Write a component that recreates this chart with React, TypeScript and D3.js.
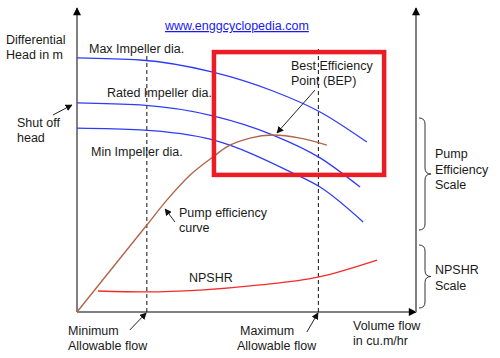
import React from "react";
import * as d3 from "d3";

// flow (x) in % of axis, head/value (y) in % of axis
const maxImpeller: [number, number][] = [[0, 83.6], [18.6, 82.9], [40.1, 78.9], [57.8, 72.7], [71.7, 65.8], [85.5, 55.9]];
const ratedImpeller: [number, number][] = [[0, 68.8], [18.6, 68.1], [40.1, 64.5], [57.8, 58.2], [71.7, 50.7], [83.5, 41.1]];
const minImpeller: [number, number][] = [[0, 60.5], [18.6, 59.9], [40.1, 56.6], [63.7, 45.7], [71.7, 41.1], [84.4, 29.6]];
const efficiency: [number, number][] = [[0, 0], [20.6, 28.6], [26.5, 36.8], [33.3, 45.0], [40.1, 51.0], [44.2, 54.3], [51.0, 57.2], [57.8, 58.2], [65.8, 57.2], [73.7, 54.9]];
const npshr: [number, number][] = [[6.2, 6.9], [20.6, 6.6], [36.3, 7.2], [54.0, 8.9], [71.1, 11.5], [88.5, 17.1]];
const allowableFlows = [20.6, 71.2];
const allowableTops = [85.2, 86.8];
const bepBox = { x0: 40.4, x1: 90.6, y0: 45.1, y1: 85.5 };
const annotationArrows: [number, number, number, number][] = [
  [-7.1, 64.8, -1.5, 68.1],
  [70.2, 73.0, 59.0, 58.9],
  [28.9, 29.6, 26.0, 33.9],
  [15.6, -5.9, 20.4, -0.3],
  [67.8, -6.6, 71.1, -0.3],
];
const labels: [string, number, number][] = [
  ["Differential", 6, 44], ["Head in m", 6, 59],
  ["Max Impeller dia.", 89, 53], ["Rated Impeller dia.", 107, 97],
  ["Shut off", 17, 127], ["head", 17, 142],
  ["Min Impeller dia.", 91, 156],
  ["Best Efficiency", 291, 70], ["Point (BEP)", 291, 85],
  ["Pump efficiency", 179, 217], ["curve", 179, 232],
  ["NPSHR", 189, 282],
  ["Minimum", 68, 335], ["Allowable flow", 68, 350],
  ["Maximum", 240, 335], ["Allowable flow", 237, 350],
  ["Volume flow", 353, 330], ["in cu.m/hr", 353, 345],
  ["Pump", 435, 158], ["Efficiency", 435, 174], ["Scale", 435, 189],
  ["NPSHR", 435, 274], ["Scale", 435, 290],
];
const braces: [number, number][] = [[118, 230], [245, 308]];

const W = 500, H = 358;
const x = d3.scaleLinear().domain([0, 100]).range([77, 416]);
const y = d3.scaleLinear().domain([0, 100]).range([312, 8]);

export default function App() {
  const line = d3.line<[number, number]>().x(d => x(d[0])).y(d => y(d[1])).curve(d3.curveMonotoneX);
  const font = "'Liberation Sans', Arial, sans-serif";
  const brace = (t: number, b: number) => {
    const m = (t + b) / 2, x0 = 419, x1 = 425, x2 = 431;
    return `M${x0},${t} Q${x1},${t} ${x1},${t + 6} L${x1},${m - 6} Q${x1},${m} ${x2},${m} Q${x1},${m} ${x1},${m + 6} L${x1},${b - 6} Q${x1},${b} ${x0},${b}`;
  };
  return (
    <svg width={W} height={H} style={{ position: "fixed", left: 0, top: 0, background: "#fff" }} fontFamily={font} fontSize={12.5}>
      <defs>
        <marker id="ah" viewBox="0 0 10 10" refX="9" refY="5" markerWidth="7" markerHeight="7" orient="auto" markerUnits="userSpaceOnUse">
          <path d="M0,0 L10,5 L0,10 z" fill="#111" />
        </marker>
        <marker id="axh" viewBox="0 0 10 10" refX="9" refY="5" markerWidth="9" markerHeight="8" orient="auto" markerUnits="userSpaceOnUse">
          <path d="M0,0 L10,5 L0,10 z" fill="#000" />
        </marker>
      </defs>
      <rect width={W} height={H} fill="#fff" />
      {/* axes */}
      <line x1={x(0)} y1={y(0)} x2={x(0)} y2={y(100)} stroke="#808080" strokeWidth={2} markerEnd="url(#axh)" />
      <line x1={x(0)} y1={y(0)} x2={x(100)} y2={y(0)} stroke="#808080" strokeWidth={2} markerEnd="url(#axh)" />
      <line x1={x(100)} y1={y(0)} x2={x(100)} y2={y(100)} stroke="#808080" strokeWidth={2} markerEnd="url(#axh)" />
      {/* allowable flow dashed lines */}
      {allowableFlows.map((f, i) => (
        <line key={i} x1={x(f)} x2={x(f)} y1={y(0)} y2={y(allowableTops[i])} stroke="#111" strokeWidth={1} strokeDasharray="4,3" />
      ))}
      {/* curves */}
      {[maxImpeller, ratedImpeller, minImpeller].map((c, i) => (
        <path key={i} d={line(c) || ""} fill="none" stroke="#2f3cf5" strokeWidth={1.3} />
      ))}
      <path d={line(efficiency) || ""} fill="none" stroke="#b0664a" strokeWidth={1.4} />
      <path d={line(npshr) || ""} fill="none" stroke="#f42a2a" strokeWidth={1.3} />
      {/* BEP box */}
      <rect x={x(bepBox.x0)} y={y(bepBox.y1)} width={x(bepBox.x1) - x(bepBox.x0)} height={y(bepBox.y0) - y(bepBox.y1)} fill="none" stroke="#ec1c24" strokeWidth={4.5} />
      {/* annotation arrows */}
      {annotationArrows.map((a, i) => (
        <line key={i} x1={x(a[0])} y1={y(a[1])} x2={x(a[2])} y2={y(a[3])} stroke="#222" strokeWidth={1} markerEnd="url(#ah)" />
      ))}
      {/* braces */}
      {braces.map((b, i) => (
        <path key={i} d={brace(b[0], b[1])} fill="none" stroke="#333" strokeWidth={1} />
      ))}
      {labels.map((l, i) => (
        <text key={i} x={l[1]} y={l[2]} fill="#1a1a1a">{l[0]}</text>
      ))}
      <text x={165} y={30} fill="#1a1aee" textDecoration="underline">www.enggcyclopedia.com</text>
    </svg>
  );
}
